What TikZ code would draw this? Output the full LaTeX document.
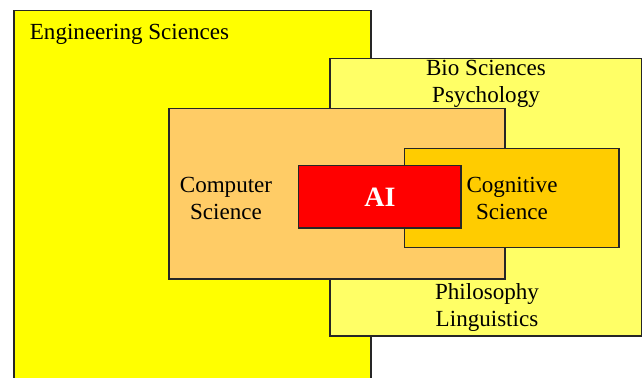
\documentclass[tikz,border=0pt]{standalone}
\usepackage{fontspec}
\setmainfont{Liberation Serif}
\definecolor{engYellow}{RGB}{255,255,0}
\definecolor{bioYellow}{RGB}{255,255,102}
\definecolor{csOrange}{RGB}{255,204,102}
\definecolor{cogOrange}{RGB}{255,204,0}
\definecolor{aiRed}{RGB}{255,0,0}
\tikzset{every picture/.style={line width=0.75pt}}
\tikzset{
  field/.style={draw=black!85, line width=1.1pt},
  fieldtext/.style={align=center, font=\fontsize{17.3}{20.3}\selectfont, inner sep=0pt}
}

\begin{document}
\begin{tikzpicture}[x=0.75pt,y=0.75pt,yscale=-1,xscale=1]
\useasboundingbox (0,0) rectangle (644,378);
\clip (0,0) rectangle (644,378);

%Shape: Rectangle [Engineering Sciences]
\draw [field, fill=engYellow] (14,10.5) rectangle (371,395) ;
%Shape: Rectangle [Bio Sciences]
\draw [field, fill=bioYellow] (330,58.5) rectangle (641.5,336) ;
%Shape: Rectangle [Computer Science]
\draw [field, fill=csOrange] (169,108.5) rectangle (505,279) ;
%Shape: Rectangle [Cognitive Science]
\draw [field, fill=cogOrange] (404.5,148.5) rectangle (619,247.5) ;
%Shape: Rectangle [AI]
\draw [field, fill=aiRed] (298.5,165.5) rectangle (461,228) ;

%Text Nodes
\node [fieldtext] (eng) at (129.5,34) {Engineering Sciences};
\node [fieldtext] (bio) at (486,83.5) {Bio Sciences\\Psychology};
\node [fieldtext] (cs) at (226,198.5) {Computer\\Science};
\node [fieldtext] (cog) at (512,198.5) {Cognitive\\Science};
\node [fieldtext, text=white, font=\fontsize{21}{24}\selectfont\bfseries] (ai) at (380,197.5) {AI};
\node [fieldtext] (phil) at (487,307.5) {Philosophy\\Linguistics};

\end{tikzpicture}
\end{document}
